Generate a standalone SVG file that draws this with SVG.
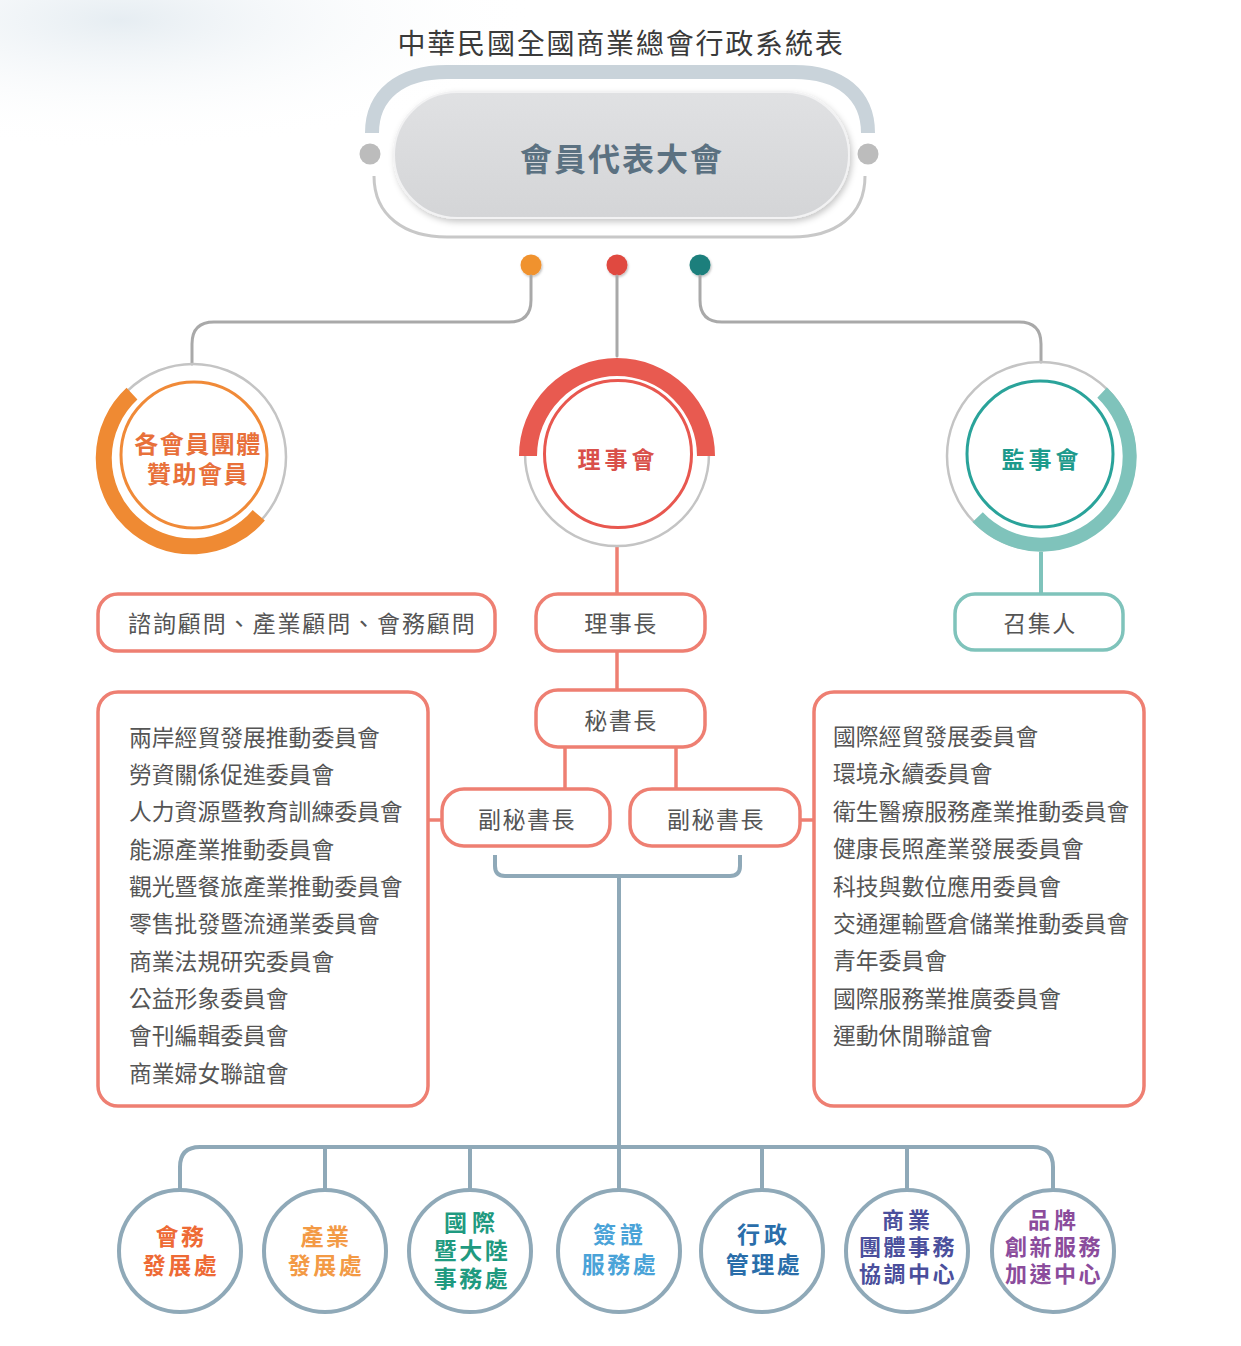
<svg xmlns="http://www.w3.org/2000/svg" width="1241" height="1346" viewBox="0 0 1241 1346">
<defs>
  <radialGradient id="bgGlow" cx="0" cy="0" r="1" gradientUnits="userSpaceOnUse" gradientTransform="translate(120 20) scale(420 130)">
    <stop offset="0" stop-color="#e6edf2"/>
    <stop offset="1" stop-color="#ffffff" stop-opacity="0"/>
  </radialGradient>
  <linearGradient id="pillFill" x1="0" y1="0" x2="0" y2="1">
    <stop offset="0" stop-color="#e0e1e3"/>
    <stop offset="1" stop-color="#d4d5d7"/>
  </linearGradient>
  <filter id="shadow" x="-10%" y="-20%" width="120%" height="150%">
    <feDropShadow dx="2" dy="3" stdDeviation="3" flood-color="#000" flood-opacity="0.22"/>
  </filter>
  <filter id="soft" x="-50%" y="-50%" width="200%" height="200%">
    <feDropShadow dx="1" dy="1.5" stdDeviation="1.2" flood-color="#000" flood-opacity="0.25"/>
  </filter>
</defs>
<style>
  .cjk { font-family: "Noto Sans CJK TC", "Noto Sans CJK SC", "Noto Sans", sans-serif; }
  .title { font-size: 28px; fill: #3a3a3a; letter-spacing: 1.8px; }
  .pilltxt { font-size: 32px; font-weight: 700; fill: #5b7181; letter-spacing: 2px; }
  .box { fill: #ffffff; stroke: #ee7f72; stroke-width: 3.5; }
  .boxtxt { font-size: 23px; fill: #555555; letter-spacing: 1.5px; }
  .list { font-size: 22.8px; fill: #555555; }
  .gray { fill: none; stroke: #a9a9a9; stroke-width: 3; stroke-linecap: round; }
  .ring { fill: none; stroke: #c4c4c4; stroke-width: 2.5; }
  .red { fill: none; stroke: #ee7f72; stroke-width: 3.5; }
  .bg { fill: none; stroke: #8fa9b8; stroke-width: 4; }
  .unit { fill: #ffffff; stroke: #8fa9b8; stroke-width: 4; }
  .utxt { font-size: 23px; font-weight: 700; letter-spacing: 2.5px; }
  .utxt2 { font-size: 22px; font-weight: 700; letter-spacing: 2.5px; }
  .ctxt { font-size: 23px; font-weight: 700; letter-spacing: 3px; }
</style>

<rect width="1241" height="1346" fill="#ffffff"/>
<rect width="1241" height="260" fill="url(#bgGlow)"/>

<text class="cjk title" x="621" y="42" text-anchor="middle" dominant-baseline="central">中華民國全國商業總會行政系統表</text>

<g id="assembly">
  <path d="M372,133 C372,95 400,72 447,72 H794 C841,72 868,95 868,133" fill="none" stroke="#c9d3da" stroke-width="14"/>
  <path d="M374,176 C374,216 405,237 447,237 H792 C835,237 865,216 865,176" fill="none" stroke="#c8c8c8" stroke-width="3"/>
  <circle cx="370" cy="154" r="10.5" fill="#bcbcbc"/>
  <circle cx="868" cy="154" r="10.5" fill="#bcbcbc"/>
  <rect x="394" y="92" width="455" height="126" rx="63" fill="url(#pillFill)" stroke="#f2f2f3" stroke-width="2" filter="url(#shadow)"/>
  <text class="cjk pilltxt" x="622" y="157" text-anchor="middle" dominant-baseline="central">會員代表大會</text>
  <circle cx="531" cy="265" r="10.5" fill="#f0922e" filter="url(#soft)"/>
  <circle cx="617" cy="265" r="10.5" fill="#e0483f" filter="url(#soft)"/>
  <circle cx="700" cy="265" r="10.5" fill="#1d7f7c" filter="url(#soft)"/>
</g>

<g id="connectors">
  <path class="gray" d="M531,276 V300 Q531,322 509,322 H214 Q192,322 192,344 V364"/>
  <path class="gray" d="M617,276 V356"/>
  <path class="gray" d="M700,276 V300 Q700,322 722,322 H1019 Q1041,322 1041,344 V362"/>
  <path class="red" d="M617,546 V593"/>
  <path class="red" d="M617,651 V690"/>
  <path class="red" d="M565,747 V788"/>
  <path class="red" d="M676,747 V788"/>
  <path class="red" d="M428,820 H442"/>
  <path class="red" d="M800,820 H814"/>
  <path d="M1041,552 V593" fill="none" stroke="#7fc3bb" stroke-width="4"/>
  <path class="bg" d="M495,855 V866 Q495,876 505,876 H730 Q740,876 740,866 V855"/>
  <path class="bg" d="M619,876 V1190"/>
  <path class="bg" d="M180,1190 V1167 Q180,1147 200,1147 H1033 Q1053,1147 1053,1167 V1190"/>
  <path class="bg" d="M325,1147 V1190"/>
  <path class="bg" d="M470,1147 V1190"/>
  <path class="bg" d="M762,1147 V1190"/>
  <path class="bg" d="M907,1147 V1190"/>
</g>

<g id="members">
  <circle class="ring" cx="193" cy="457" r="93"/>
  <path d="M132.0,393.7 A88,88 0 1 0 258.8,515.3" fill="none" stroke="#ef8a33" stroke-width="16"/>
  <circle cx="194" cy="455" r="73" fill="none" stroke="#f08a38" stroke-width="3"/>
  <text class="cjk ctxt" text-anchor="middle" dominant-baseline="central" fill="#e8703a" style="letter-spacing:1.5px;font-size:24px"><tspan x="198" y="442">各會員團體</tspan><tspan x="198" y="472">贊助會員</tspan></text>
</g>

<g id="board">
  <circle class="ring" cx="617" cy="454" r="92"/>
  <path d="M528,456 A89,89 0 0 1 706,456" fill="none" stroke="#e85a50" stroke-width="18"/>
  <circle cx="618" cy="454" r="73.5" fill="none" stroke="#e8574f" stroke-width="3"/>
  <text class="cjk ctxt" x="618" y="458" text-anchor="middle" dominant-baseline="central" fill="#d9504a" style="letter-spacing:4px">理事會</text>
</g>

<g id="supervisors">
  <circle class="ring" cx="1041" cy="456" r="94"/>
  <path d="M1102.1,392.7 A88,88 0 1 1 977.7,517.1" fill="none" stroke="#7fc3bb" stroke-width="14"/>
  <circle cx="1040" cy="454" r="73" fill="none" stroke="#2aa39a" stroke-width="3"/>
  <text class="cjk ctxt" x="1042" y="458" text-anchor="middle" dominant-baseline="central" fill="#1d9a8c" style="letter-spacing:4px">監事會</text>
</g>

<g id="convener">
  <rect x="955" y="594" width="168" height="56" rx="20" fill="#ffffff" stroke="#7fc3bb" stroke-width="3.5"/>
  <text class="cjk boxtxt" x="1040" y="622" text-anchor="middle" dominant-baseline="central">召集人</text>
</g>

<g id="advisors">
  <rect class="box" x="98" y="594" width="397" height="57" rx="20"/>
  <text class="cjk boxtxt" x="128" y="622" dominant-baseline="central" style="letter-spacing:1.9px">諮詢顧問、產業顧問、會務顧問</text>
</g>

<g id="chairman">
  <rect class="box" x="536" y="594" width="169" height="57" rx="22"/>
  <text class="cjk boxtxt" x="621" y="622" text-anchor="middle" dominant-baseline="central">理事長</text>
</g>

<g id="secretary-general">
  <rect class="box" x="536" y="690" width="169" height="57" rx="22"/>
  <text class="cjk boxtxt" x="621" y="719" text-anchor="middle" dominant-baseline="central">秘書長</text>
</g>

<g id="deputy-left">
  <rect class="box" x="442" y="789" width="168" height="57" rx="22"/>
  <text class="cjk boxtxt" x="527" y="818" text-anchor="middle" dominant-baseline="central">副秘書長</text>
</g>

<g id="deputy-right">
  <rect class="box" x="630" y="789" width="170" height="57" rx="22"/>
  <text class="cjk boxtxt" x="716" y="818" text-anchor="middle" dominant-baseline="central">副秘書長</text>
</g>

<g id="committees-left">
  <rect class="box" x="98" y="692" width="330" height="414" rx="20"/>
  <text class="cjk list" x="129" y="736" dominant-baseline="central">兩岸經貿發展推動委員會</text>
  <text class="cjk list" x="129" y="773" dominant-baseline="central">勞資關係促進委員會</text>
  <text class="cjk list" x="129" y="810" dominant-baseline="central">人力資源暨教育訓練委員會</text>
  <text class="cjk list" x="129" y="848" dominant-baseline="central">能源產業推動委員會</text>
  <text class="cjk list" x="129" y="885" dominant-baseline="central">觀光暨餐旅產業推動委員會</text>
  <text class="cjk list" x="129" y="922" dominant-baseline="central">零售批發暨流通業委員會</text>
  <text class="cjk list" x="129" y="960" dominant-baseline="central">商業法規研究委員會</text>
  <text class="cjk list" x="129" y="997" dominant-baseline="central">公益形象委員會</text>
  <text class="cjk list" x="129" y="1034" dominant-baseline="central">會刊編輯委員會</text>
  <text class="cjk list" x="129" y="1072" dominant-baseline="central">商業婦女聯誼會</text>
</g>

<g id="committees-right">
  <rect class="box" x="814" y="692" width="330" height="414" rx="20"/>
  <text class="cjk list" x="833" y="735" dominant-baseline="central">國際經貿發展委員會</text>
  <text class="cjk list" x="833" y="772" dominant-baseline="central">環境永續委員會</text>
  <text class="cjk list" x="833" y="810" dominant-baseline="central">衛生醫療服務產業推動委員會</text>
  <text class="cjk list" x="833" y="847" dominant-baseline="central">健康長照產業發展委員會</text>
  <text class="cjk list" x="833" y="885" dominant-baseline="central">科技與數位應用委員會</text>
  <text class="cjk list" x="833" y="922" dominant-baseline="central">交通運輸暨倉儲業推動委員會</text>
  <text class="cjk list" x="833" y="959" dominant-baseline="central">青年委員會</text>
  <text class="cjk list" x="833" y="997" dominant-baseline="central">國際服務業推廣委員會</text>
  <text class="cjk list" x="833" y="1034" dominant-baseline="central">運動休閒聯誼會</text>
</g>

<g id="unit-membership">
  <circle class="unit" cx="180" cy="1251" r="61"/>
  <text class="cjk utxt" text-anchor="middle" dominant-baseline="central" fill="#ee6a35"><tspan x="181" y="1235">會務</tspan><tspan x="181" y="1264">發展處</tspan></text>
</g>

<g id="unit-industry">
  <circle class="unit" cx="325" cy="1251" r="61"/>
  <text class="cjk utxt" text-anchor="middle" dominant-baseline="central" fill="#f39a45"><tspan x="326" y="1235">產業</tspan><tspan x="326" y="1264">發展處</tspan></text>
</g>

<g id="unit-international">
  <circle class="unit" cx="470" cy="1251" r="61"/>
  <text class="cjk utxt" text-anchor="middle" dominant-baseline="central" fill="#1f9a80"><tspan x="472" y="1221" style="letter-spacing:5px">國際</tspan><tspan x="472" y="1249">暨大陸</tspan><tspan x="472" y="1277">事務處</tspan></text>
</g>

<g id="unit-visa">
  <circle class="unit" cx="619" cy="1251" r="61"/>
  <text class="cjk utxt" text-anchor="middle" dominant-baseline="central" fill="#4aa3d8"><tspan x="620" y="1233" style="letter-spacing:4px">簽證</tspan><tspan x="620" y="1263">服務處</tspan></text>
</g>

<g id="unit-admin">
  <circle class="unit" cx="762" cy="1251" r="61"/>
  <text class="cjk utxt" text-anchor="middle" dominant-baseline="central" fill="#2a6eaa"><tspan x="764" y="1233" style="letter-spacing:4px">行政</tspan><tspan x="764" y="1263">管理處</tspan></text>
</g>

<g id="unit-associations">
  <circle class="unit" cx="907" cy="1251" r="61"/>
  <text class="cjk utxt2" text-anchor="middle" dominant-baseline="central" fill="#4b4f9c"><tspan x="908" y="1218" style="letter-spacing:4px">商業</tspan><tspan x="908" y="1245">團體事務</tspan><tspan x="908" y="1272">協調中心</tspan></text>
</g>

<g id="unit-brand">
  <circle class="unit" cx="1053" cy="1251" r="61"/>
  <text class="cjk utxt2" text-anchor="middle" dominant-baseline="central" fill="#8b4c9c"><tspan x="1054" y="1218" style="letter-spacing:4px">品牌</tspan><tspan x="1054" y="1245">創新服務</tspan><tspan x="1054" y="1272">加速中心</tspan></text>
</g>
</svg>
